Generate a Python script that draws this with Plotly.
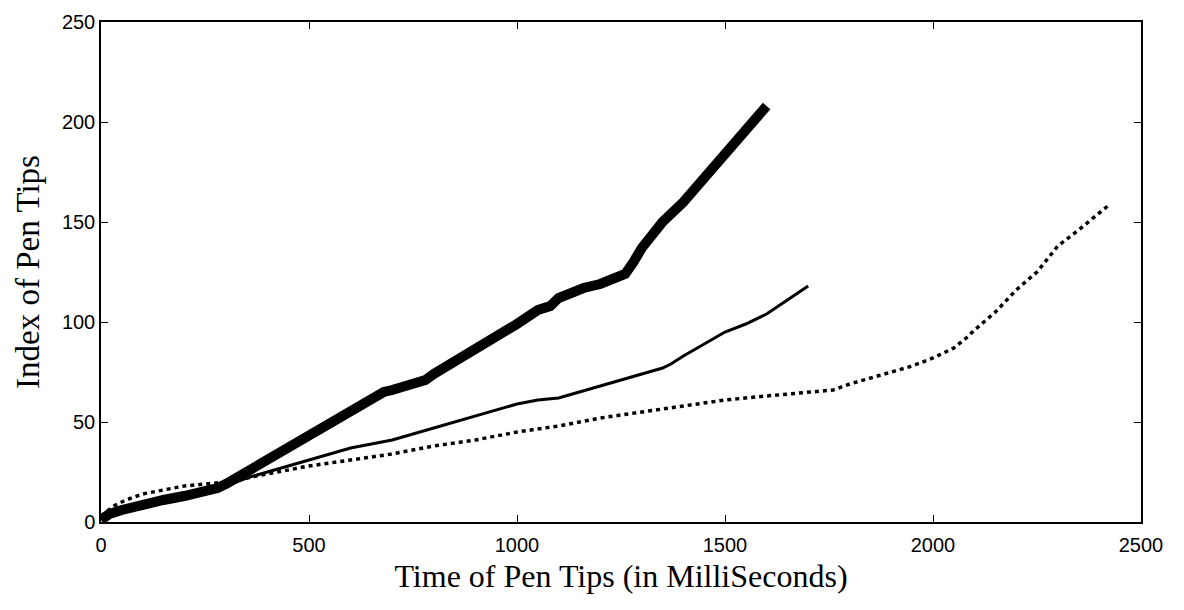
import plotly.graph_objects as go

# Thick series
thick_t = [0, 20, 50, 100, 150, 200, 250, 280, 300, 350, 400, 450, 500, 550, 600, 650, 680, 700, 750, 780,
           800, 850, 900, 950, 1000, 1050, 1080, 1100, 1130, 1160, 1200, 1240, 1260, 1280, 1300, 1350,
           1400, 1450, 1500, 1550, 1580, 1600]
thick_v = [1, 4, 6, 9, 11, 13, 15, 17, 19, 25, 31, 37, 43, 49, 56, 62, 65, 66, 69, 71,
           74, 80, 87, 93, 99, 106, 108, 112, 115, 117, 119, 122, 124, 130, 137, 150,
           160, 172, 184, 196, 203, 208]

# Thin solid series
solid_t = [0, 50, 100, 200, 300, 350, 400, 450, 500, 550, 600, 650, 700, 750, 800, 850, 900, 950,
           1000, 1050, 1100, 1150, 1200, 1250, 1300, 1350, 1370, 1400, 1450, 1500, 1550, 1600, 1650, 1700]
solid_v = [2, 5, 8, 12, 18, 22, 25, 28, 31, 34, 37, 39, 41, 44, 47, 50, 53, 56,
           59, 61, 62, 65, 68, 71, 74, 77, 79, 83, 89, 95, 99, 104, 111, 118]

# Dotted series
dot_t = [0, 30, 60, 100, 150, 200, 250, 300, 400, 500, 600, 700, 800, 900, 1000, 1100, 1200, 1300,
         1400, 1500, 1600, 1700, 1760, 1800, 1850, 1900, 1950, 2000, 2050, 2080, 2100, 2150, 2200,
         2250, 2300, 2350, 2380, 2420]
dot_v = [3, 8, 11, 14, 16, 18, 19, 20, 24, 28, 31, 34, 38, 41, 45, 48, 52, 55,
         58, 61, 63, 65, 66, 69, 72, 75, 78, 82, 87, 92, 96, 105, 116,
         125, 138, 146, 151, 158]

x_ticks = [0, 500, 1000, 1500, 2000, 2500]
y_ticks = [0, 50, 100, 150, 200, 250]

fig = go.Figure()
fig.add_trace(go.Scatter(x=dot_t, y=dot_v, mode="lines",
                         line=dict(color="black", width=3.5, dash="4px,4px")))
fig.add_trace(go.Scatter(x=solid_t, y=solid_v, mode="lines",
                         line=dict(color="black", width=3)))
fig.add_trace(go.Scatter(x=thick_t, y=thick_v, mode="lines",
                         line=dict(color="black", width=10)))

axis_common = dict(showgrid=False, zeroline=False, showline=True, linecolor="black", linewidth=1.5,
                   mirror="ticks", ticks="inside", ticklen=7, tickcolor="black", tickwidth=1,
                   tickfont=dict(family="Liberation Sans, Arial", size=20, color="black"))

fig.update_layout(
    width=1184, height=610,
    margin=dict(l=101, r=43, t=22, b=88),
    plot_bgcolor="white", paper_bgcolor="white",
    showlegend=False,
    xaxis=dict(range=[0, 2500], tickvals=x_ticks, ticktext=[str(v) for v in x_ticks],
               ticklabelstandoff=4,
               title=dict(text="Time of Pen Tips (in MilliSeconds)", standoff=10,
                          font=dict(family="Liberation Serif, Times New Roman", size=32, color="black")),
               **axis_common),
    yaxis=dict(range=[0, 250], tickvals=y_ticks, ticktext=[str(v) for v in y_ticks],
               title=dict(text="Index of Pen Tips", standoff=12,
                          font=dict(family="Liberation Serif, Times New Roman", size=33, color="black")),
               **axis_common),
)

fig.write_html("out.html")
